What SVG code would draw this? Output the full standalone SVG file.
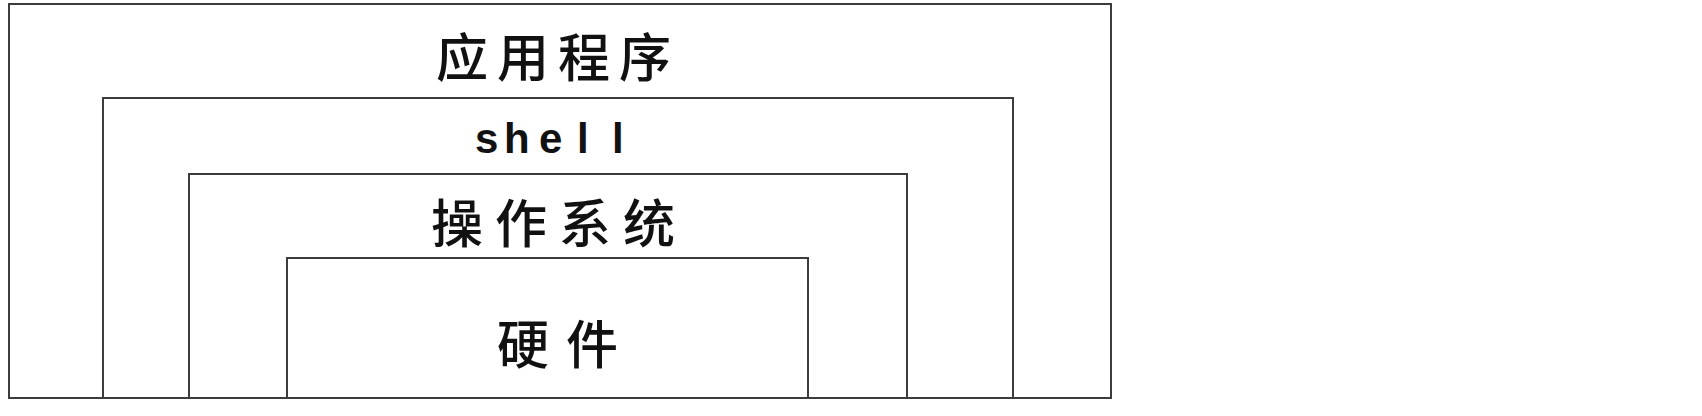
<svg xmlns="http://www.w3.org/2000/svg" width="1702" height="416" viewBox="0 0 1702 416">
  <style>
    .box { fill: none; stroke: #3c3c3c; stroke-width: 2; }
    .cjk { font-family: "Noto Sans CJK SC", sans-serif; font-size: 52px; font-weight: 500; fill: #111; }
    .lat { font-family: "Liberation Sans", Arial, sans-serif; font-weight: bold; font-size: 42px; fill: #111; }
  </style>
  <rect x="0" y="0" width="1702" height="416" fill="#ffffff"/>
  <g id="app">
    <rect class="box" x="9" y="4" width="1102" height="394"/>
    <text class="cjk" x="436" y="77" letter-spacing="9">应用程序</text>
  </g>
  <g id="shell">
    <rect class="box" x="103" y="98" width="910" height="300"/>
    <text class="lat" y="153"><tspan x="475">s</tspan><tspan x="504">h</tspan><tspan x="539">e</tspan><tspan x="577">l</tspan><tspan x="612">l</tspan></text>
  </g>
  <g id="os">
    <rect class="box" x="189" y="174" width="718" height="224"/>
    <text class="cjk" x="431" y="243" letter-spacing="12">操作系统</text>
  </g>
  <g id="hardware">
    <rect class="box" x="287" y="258" width="521" height="140"/>
    <text class="cjk" x="497" y="364" letter-spacing="17">硬件</text>
  </g>
  <g id="connectors"></g>
</svg>
